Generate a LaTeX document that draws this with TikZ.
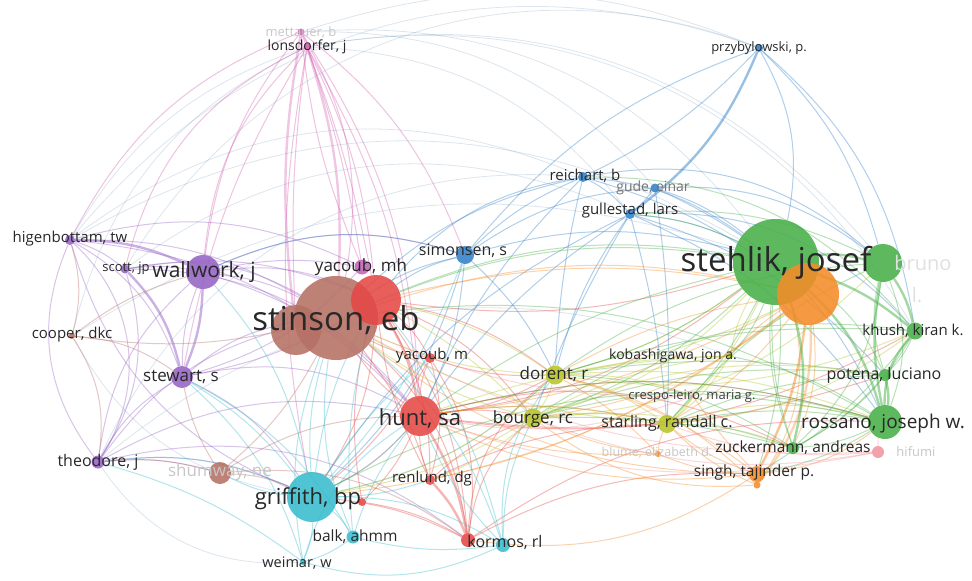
\documentclass[tikz,border=0pt]{standalone}
\usepackage{fontspec}
\setmainfont{Open Sans}
\usetikzlibrary{backgrounds}

\definecolor{vred}{RGB}{228,72,68}
\definecolor{vgreen}{RGB}{72,176,72}
\definecolor{vblue}{RGB}{52,128,200}
\definecolor{volive}{RGB}{184,196,40}
\definecolor{vpurple}{RGB}{150,100,196}
\definecolor{vcyan}{RGB}{56,188,206}
\definecolor{vorange}{RGB}{244,140,40}
\definecolor{vbrown}{RGB}{182,112,100}
\definecolor{vpink}{RGB}{212,96,178}
\definecolor{vrose}{RGB}{240,150,160}
\definecolor{vtext}{RGB}{40,40,40}

\begin{document}
\begin{tikzpicture}[x=1pt, y=-1pt,
  nd/.style={circle, inner sep=0pt, draw=none, fill opacity=0.88},
  ed/.style={line width=1pt, draw opacity=0.38},
  ted/.style={line width=2.4pt, draw opacity=0.5},
  fnt/.style={line width=0.8pt, draw opacity=0.2},
  lb/.style={text=vtext, inner sep=0pt, font=\fontsize{#1}{#1}\selectfont},
  lb/.default=16,
  fad/.style={text=black!22}
]
\useasboundingbox (0,0) rectangle (972,581);

% purple cluster
\node[nd, fill=vpurple, minimum size=34] (wallwork) at (203,272) {};
\node[nd, fill=vpurple, minimum size=10] (higenbottam) at (70,240) {};
\node[nd, fill=vpurple, minimum size=9] (scott) at (125,269) {};
\node[nd, fill=vpurple, minimum size=22] (stewart) at (182,377) {};
\node[nd, fill=vpurple, minimum size=13] (theodore) at (98,462) {};
% brown cluster
\node[nd, fill=vbrown, minimum size=50] (stinsonb) at (296,330) {};
\node[nd, fill=vbrown, minimum size=84] (stinson) at (336,318) {};
\node[nd, fill=vbrown, minimum size=6] (cooper) at (72,336) {};
\node[nd, fill=vbrown, minimum size=22] (shumway) at (220,473) {};
% red cluster
\node[nd, fill=vred, minimum size=50] (redbig) at (376,300) {};
\node[nd, fill=vred, minimum size=40] (hunt) at (420,416) {};
\node[nd, fill=vred, minimum size=10] (yacoubm) at (430,358) {};
\node[nd, fill=vred, minimum size=10] (renlund) at (430,480) {};
\node[nd, fill=vred, minimum size=14] (kormos) at (468,540) {};
\node[nd, fill=vred, minimum size=8] (griffithr) at (362,502) {};
% pink cluster
\node[nd, fill=vpink, minimum size=7] (mettauer) at (301,32) {};
\node[nd, fill=vpink, minimum size=7] (lonsdorfer) at (307,47) {};
\node[nd, fill=vpink!70!vpurple, minimum size=15] (yacoubmh) at (362,267) {};
% blue cluster
\node[nd, fill=vblue, minimum size=18] (simonsen) at (465,255) {};
\node[nd, fill=vblue, minimum size=10] (reichart) at (583,177) {};
\node[nd, fill=vblue, minimum size=9] (gude) at (655,188) {};
\node[nd, fill=vblue, minimum size=10] (gullestad) at (630,214) {};
\node[nd, fill=vblue, minimum size=8] (przybylowski) at (759,48) {};
% cyan cluster
\node[nd, fill=vcyan, minimum size=50] (griffith) at (312,497) {};
\node[nd, fill=vcyan, minimum size=13] (balk) at (353,537) {};
\node[nd, fill=vcyan, minimum size=14] (kormosc) at (503,545) {};
\node[nd, fill=vcyan, minimum size=6] (weimar) at (303,562) {};
% olive cluster
\node[nd, fill=volive, minimum size=19] (dorent) at (555,375) {};
\node[nd, fill=volive, minimum size=19] (bourge) at (533,418) {};
\node[nd, fill=volive, minimum size=18] (starling) at (667,424) {};
\node[nd, fill=volive, minimum size=6] (kobashigawa) at (730,356) {};
\node[nd, fill=vrose, minimum size=4] (crespo) at (693,396) {};
% green and orange clusters
\node[nd, fill=vgreen, minimum size=86] (stehlik) at (776,262) {};
\node[nd, fill=vorange, minimum size=62] (orange) at (808,294) {};
\node[nd, fill=vgreen, minimum size=38] (bruno) at (883,263) {};
\node[nd, fill=vgreen, minimum size=17] (khush) at (915,331) {};
\node[nd, fill=vgreen, minimum size=12] (potena) at (885,375) {};
\node[nd, fill=vgreen, minimum size=34] (rossano) at (885,422) {};
\node[nd, fill=vgreen, minimum size=12] (zuckermann) at (793,448) {};
\node[nd, fill=vorange, minimum size=16] (singh) at (757,474) {};
\node[nd, fill=vorange, minimum size=7] (singhdot) at (757,485) {};
\node[nd, fill=vorange, minimum size=6] (blume) at (658,454) {};
\node[nd, fill=vrose, minimum size=12] (hifumi) at (878,452) {};

\begin{pgfonlayer}{background}
\fill[white] (0,0) rectangle (972,581);
% long faint arcs
\foreach \a/\b/\c in {mettauer/przybylowski/20, lonsdorfer/bruno/30, higenbottam/przybylowski/35,
  higenbottam/stehlik/30, theodore/reichart/35, mettauer/gude/25, scott/gullestad/30,
  cooper/stehlik/25, lonsdorfer/khush/35, theodore/kobashigawa/30, lonsdorfer/gullestad/25,
  mettauer/stehlik/28, higenbottam/lonsdorfer/20, cooper/lonsdorfer/25, scott/przybylowski/40,
  theodore/weimar/-30, cooper/griffith/-25, higenbottam/reichart/30}
  \draw[fnt, vblue!60!gray] (\a) to[bend left=\c] (\b);
% purple
\foreach \a/\b/\c in {higenbottam/scott/10, scott/wallwork/8, higenbottam/stewart/20,
  theodore/stewart/15, theodore/wallwork/20, theodore/higenbottam/30, theodore/stinson/20,
  wallwork/stinson/10, stewart/stinson/15, higenbottam/stinson/15, scott/stinson/20,
  wallwork/redbig/15, higenbottam/yacoubmh/20, theodore/griffith/15, stewart/griffith/15,
  higenbottam/hunt/20, wallwork/hunt/15, theodore/shumway/10, scott/theodore/25,
  stewart/hunt/20, wallwork/simonsen/20, higenbottam/theodore/40, stewart/wallwork/10,
  scott/hunt/25, theodore/hunt/20, stewart/yacoubmh/-15, higenbottam/griffith/-25,
  theodore/kormos/25, wallwork/yacoubmh/10, stewart/redbig/-10, scott/redbig/15}
  \draw[ed, vpurple] (\a) to[bend left=\c] (\b);
\foreach \a/\b/\c in {higenbottam/wallwork/12, wallwork/stewart/10, scott/stewart/15}
  \draw[ted, vpurple] (\a) to[bend left=\c] (\b);
% pink
\foreach \a/\b/\c in {mettauer/stinson/20, lonsdorfer/redbig/10,
  mettauer/redbig/5, lonsdorfer/yacoubmh/5, mettauer/hunt/15, lonsdorfer/wallwork/-20,
  mettauer/higenbottam/-20, lonsdorfer/stewart/-10, lonsdorfer/griffith/-10,
  mettauer/simonsen/15, lonsdorfer/stinsonb/-5, mettauer/yacoubmh/-8, lonsdorfer/hunt/12,
  mettauer/wallwork/-15, lonsdorfer/scott/-25}
  \draw[ed, vpink] (\a) to[bend left=\c] (\b);
\foreach \a/\b/\c in {lonsdorfer/stinson/10, mettauer/stinsonb/-8}
  \draw[ted, vpink, draw opacity=0.35] (\a) to[bend left=\c] (\b);
% blue
\foreach \a/\b/\c in {przybylowski/reichart/10, przybylowski/stehlik/20, przybylowski/simonsen/-15,
  przybylowski/khush/20, reichart/gullestad/10, reichart/simonsen/-10, reichart/stinson/-15,
  reichart/stehlik/15, gullestad/stehlik/10, gullestad/rossano/15, gullestad/dorent/-10,
  gullestad/hunt/-10, gullestad/khush/25, gude/stehlik/10, gude/gullestad/5, gude/simonsen/-15,
  simonsen/stinson/-10, simonsen/hunt/10, simonsen/griffith/15, simonsen/stehlik/15,
  simonsen/redbig/-10, reichart/hunt/-10, gullestad/starling/5, gullestad/potena/15,
  reichart/bruno/25, gude/rossano/20, przybylowski/bruno/15, gude/bruno/20,
  reichart/dorent/-5, gullestad/bourge/-5, gude/starling/5, simonsen/wallwork/-20,
  reichart/redbig/-20, gullestad/griffith/-15, simonsen/dorent/10, reichart/orange/10}
  \draw[ed, vblue] (\a) to[bend left=\c] (\b);
\draw[ted, vblue] (przybylowski) to[bend left=15] (gullestad);
% red
\foreach \a/\b/\c in {hunt/yacoubm/10, hunt/renlund/-10,
  hunt/griffith/10, redbig/kormos/15, hunt/stehlik/-15, hunt/bourge/10,
  hunt/dorent/-10, redbig/renlund/15, yacoubm/stinson/10, kormos/stinson/-20, hunt/rossano/15,
  griffithr/kormos/10, renlund/stinson/-10, hunt/starling/10, redbig/yacoubm/10,
  yacoubm/renlund/15, kormos/griffith/-10, redbig/griffith/15, hunt/stinson/10,
  yacoubm/kormos/20, redbig/bourge/15, hunt/zuckermann/20, kormos/bourge/20,
  griffithr/hunt/-10, renlund/redbig/10, kormos/dorent/25, redbig/stehlik/-12,
  hunt/potena/-12, renlund/starling/12, kormos/singh/15, yacoubm/dorent/-10,
  griffithr/redbig/12, kormos/rossano/18, redbig/dorent/12, hunt/khush/-18,
  renlund/bourge/10, yacoubm/griffith/10}
  \draw[ed, vred] (\a) to[bend left=\c] (\b);
\foreach \a/\b/\c in {redbig/hunt/10, hunt/kormos/10, renlund/kormos/10}
  \draw[ted, vred, draw opacity=0.4] (\a) to[bend left=\c] (\b);
% cyan
\foreach \a/\b/\c in {griffith/stinson/10, griffith/balk/10, griffith/kormosc/15, griffith/weimar/10,
  balk/weimar/10, griffith/hunt/-10, griffith/stewart/-10, griffith/wallwork/-15, kormosc/hunt/10,
  kormosc/stinson/-15, balk/stinson/15, griffith/shumway/10, weimar/kormosc/-20,
  griffith/simonsen/-10, griffith/dorent/-15, balk/hunt/10, weimar/stinson/15,
  griffith/theodore/-15, weimar/theodore/-10, kormosc/dorent/20, balk/kormosc/-10,
  griffith/redbig/10, weimar/hunt/20, balk/redbig/10, griffith/yacoubm/8, kormosc/redbig/-12,
  balk/stewart/-15, weimar/stewart/-15, griffith/renlund/-8, kormosc/bourge/12}
  \draw[ed, vcyan] (\a) to[bend left=\c] (\b);
% olive
\foreach \a/\b/\c in {dorent/bourge/10, dorent/stehlik/-10, bourge/starling/10, starling/stehlik/-10,
  dorent/kobashigawa/5, bourge/stehlik/-15, starling/rossano/15, bourge/stinson/10,
  kobashigawa/stehlik/10, dorent/starling/10, bourge/potena/15, dorent/stinson/10,
  bourge/griffith/10, starling/hunt/-10, dorent/redbig/-10, kobashigawa/bourge/-10,
  crespo/starling/10, dorent/khush/-15, bourge/bruno/-20, dorent/rossano/12,
  bourge/zuckermann/12, starling/kobashigawa/-10, dorent/griffith/15, bourge/redbig/-8,
  starling/stinson/12, kobashigawa/hunt/-8, dorent/orange/-8, bourge/renlund/10,
  crespo/dorent/-10, starling/khush/-15}
  \draw[ed, volive] (\a) to[bend left=\c] (\b);
% orange
\foreach \a/\b/\c in {singh/starling/10, singh/blume/10, orange/hunt/10, orange/bourge/15,
  singh/dorent/-10, orange/starling/10, orange/stinson/-15, singh/rossano/-15,
  singhdot/starling/10, singh/hunt/15, orange/dorent/-10, blume/starling/10,
  singhdot/bourge/20, orange/zuckermann/15, singh/kormos/20, orange/griffith/15,
  singhdot/stehlik/-25, blume/bourge/8, orange/kobashigawa/-8, singh/stinson/18,
  blume/hunt/10, singhdot/dorent/-15, orange/redbig/-12, singh/crespo/5,
  orange/renlund/12, blume/dorent/-8}
  \draw[ed, vorange] (\a) to[bend left=\c] (\b);
\draw[ted, vorange] (orange) to[bend left=10] (singh);
\draw[ted, vorange, draw opacity=0.35] (orange) to[bend left=20] (singhdot);
% green
\foreach \a/\b/\c in {stehlik/potena/15, khush/potena/10, rossano/zuckermann/10,
  stehlik/zuckermann/-10, zuckermann/potena/-10, stehlik/dorent/10, rossano/bourge/-15,
  bruno/rossano/20, khush/zuckermann/15, stehlik/gullestad/-10, bruno/potena/-15,
  stehlik/stinson/-15, rossano/starling/-10, zuckermann/starling/-10, stehlik/hunt/-10,
  bruno/zuckermann/20, khush/bourge/-20, rossano/griffith/-20, stehlik/kobashigawa/10,
  bruno/gullestad/-15, khush/reichart/-25, stehlik/singh/10, zuckermann/dorent/-15,
  potena/starling/-10, rossano/hunt/-15, stehlik/starling/8, bruno/starling/-12,
  khush/dorent/-10, potena/bourge/-12, zuckermann/bourge/-8, rossano/stinson/-18,
  stehlik/bourge/12, bruno/dorent/-15, khush/singh/10, stehlik/redbig/-15,
  potena/dorent/-8, rossano/kobashigawa/-10, zuckermann/stehlik/12, rossano/singh/10}
  \draw[ed, vgreen] (\a) to[bend left=\c] (\b);
\foreach \a/\b/\c in {stehlik/bruno/10, stehlik/khush/10, stehlik/rossano/15,
  bruno/khush/10, potena/rossano/10, khush/rossano/-20, stehlik/zuckermann/15, bruno/rossano/-10}
  \draw[ted, vgreen] (\a) to[bend left=\c] (\b);
% brown and rose
\foreach \a/\b/\c in {stinson/cooper/10, stinson/shumway/10, shumway/theodore/-10,
  cooper/stewart/15, cooper/theodore/20, shumway/griffith/10, shumway/hunt/15,
  cooper/higenbottam/-15, shumway/stewart/10, cooper/wallwork/10, shumway/kormos/20}
  \draw[ed, vbrown] (\a) to[bend left=\c] (\b);
\foreach \a/\b/\c in {hifumi/rossano/10, hifumi/stinson/15, hifumi/hunt/15, crespo/hunt/15,
  hifumi/starling/12, crespo/stinson/12, hifumi/bourge/15}
  \draw[ed, vrose] (\a) to[bend left=\c] (\b);
\end{pgfonlayer}

% labels
\node[lb=13, fad] (t-mettauer) at (301,32) {mettauer, b};
\node[lb=14] (t-lonsdorfer) at (307,47) {lonsdorfer, j};
\node[lb=13] (t-przybylowski) at (759,48) {przybylowski, p.};
\node[lb=15] (t-reichart) at (585,176) {reichart, b};
\node[lb=14, text=black!55] (t-gude) at (653,188) {gude, einar};
\node[lb=15] (t-gullestad) at (630,211) {gullestad, lars};
\node[lb=15] (t-higenbottam) at (70,239) {higenbottam, tw};
\node[lb=13] (t-scott) at (126,268) {scott, jp};
\node[lb=21] (t-wallwork) at (204,272) {wallwork, j};
\node[lb=16] (t-simonsen) at (463,251) {simonsen, s};
\node[lb=17] (t-yacoubmh) at (361,267) {yacoub, mh};
\node[lb=33] (t-stinson) at (336,320) {stinson, eb};
\node[lb=15] (t-cooper) at (72,335) {cooper, dkc};
\node[lb=15] (t-yacoubm) at (432,356) {yacoub, m};
\node[lb=17] (t-stewart) at (181,377) {stewart, s};
\node[lb=14] (t-kobashigawa) at (673,356) {kobashigawa, jon a.};
\node[lb=17] (t-dorent) at (554,374) {dorent, r};
\node[lb=13, text=black!75] (t-crespo) at (692,396) {crespo-leiro, maria g.};
\node[lb=22] (t-hunt) at (420,419) {hunt, sa};
\node[lb=17] (t-bourge) at (533,419) {bourge, rc};
\node[lb=16] (t-starling) at (667,423) {starling, randall c.};
\node[lb=16] (t-potena) at (884,375) {potena, luciano};
\node[lb=15] (t-khush) at (913,331) {khush, kiran k.};
\node[lb=19] (t-rossano) at (883,424) {rossano, joseph w.};
\node[lb=33] (t-stehlik) at (776,263) {stehlik, josef};
\node[lb=20, text=black!12] (t-bruno) at (923,263) {bruno};
\node[lb=20, text=black!12] (t-l) at (917,295) {l.};
\node[lb=15.5] (t-zuckermann) at (793,448) {zuckermann, andreas};
\node[lb=15.5] (t-singh) at (754,472) {singh, tajinder p.};
\node[lb=12.5, fad] (t-blume) at (657,453) {blume, elizabeth d.};
\node[lb=13, fad] (t-hifumi) at (916,452) {hifumi};
\node[lb=16] (t-theodore) at (98,462) {theodore, j};
\node[lb=17, fad] (t-shumway) at (220,472) {shumway, ne};
\node[lb=22] (t-griffith) at (308,499) {griffith, bp};
\node[lb=15] (t-renlund) at (432,479) {renlund, dg};
\node[lb=15.5] (t-balk) at (355,537) {balk, ahmm};
\node[lb=16] (t-kormos) at (505,542) {kormos, rl};
\node[lb=14.5] (t-weimar) at (297,563) {weimar, w};
\end{tikzpicture}
\end{document}
